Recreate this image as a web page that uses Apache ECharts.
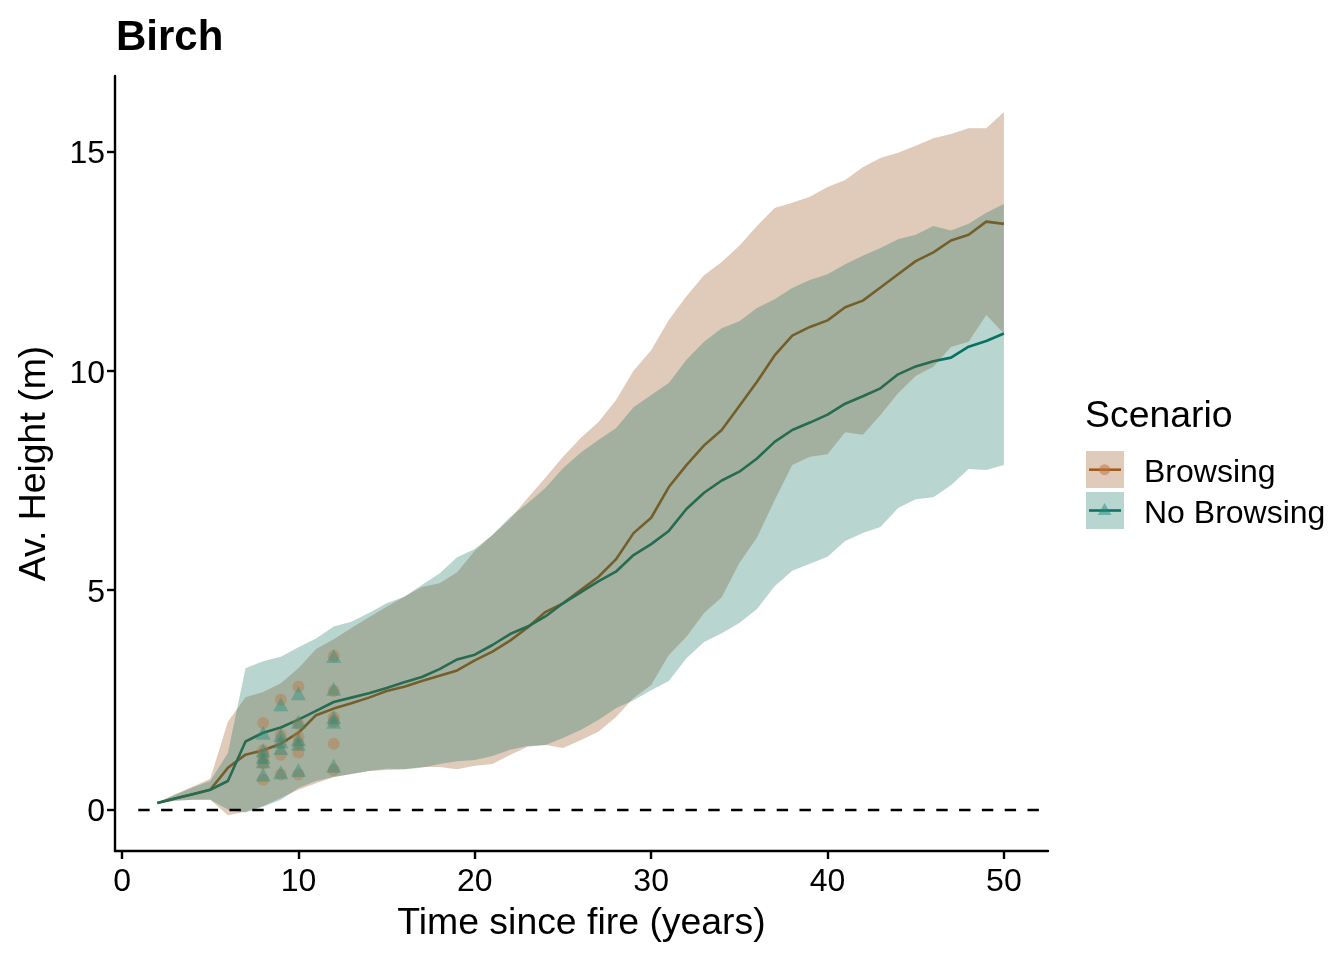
<!DOCTYPE html>
<html><head><meta charset="utf-8">
<style>html,body{margin:0;padding:0;background:#fff}#c{width:1344px;height:960px}</style>
<script src="https://cdn.jsdelivr.net/npm/echarts@6/dist/echarts.min.js"></script>
</head><body><div id="c"></div>
<script>
const years = [2,3,4,5,6,7,8,9,10,11,12,13,14,15,16,17,18,19,20,21,22,23,24,25,26,27,28,29,30,31,32,33,34,35,36,37,38,39,40,41,42,43,44,45,46,47,48,49,50];
const browsingMean = [0.15,0.25,0.35,0.45,0.95,1.25,1.35,1.5,1.75,2.15,2.3,2.42,2.55,2.7,2.8,2.93,3.05,3.17,3.4,3.6,3.85,4.15,4.5,4.7,5.0,5.3,5.7,6.3,6.65,7.35,7.85,8.3,8.65,9.2,9.75,10.35,10.8,11.0,11.15,11.45,11.6,11.9,12.2,12.5,12.7,12.97,13.1,13.4,13.35];
const noBrowsingMean = [0.15,0.25,0.35,0.45,0.65,1.55,1.75,1.87,2.05,2.25,2.45,2.55,2.65,2.77,2.9,3.02,3.2,3.42,3.53,3.75,4.0,4.17,4.4,4.7,4.95,5.2,5.42,5.8,6.05,6.35,6.85,7.22,7.5,7.7,8.0,8.38,8.65,8.82,9.0,9.25,9.42,9.6,9.92,10.1,10.22,10.3,10.55,10.68,10.85];
const browsingUpper = [0.16,0.35,0.52,0.7,2.0,2.56,2.68,2.88,3.22,3.66,3.88,4.14,4.38,4.62,4.85,5.07,5.16,5.41,5.9,6.26,6.62,7.1,7.56,8.04,8.47,8.83,9.33,10.0,10.47,11.16,11.7,12.18,12.48,12.85,13.3,13.71,13.83,13.97,14.19,14.35,14.64,14.85,14.97,15.13,15.3,15.4,15.53,15.53,15.9];
const browsingLower = [0.14,0.2,0.22,0.22,-0.13,-0.05,0.08,0.26,0.45,0.6,0.74,0.81,0.88,0.9,0.92,0.97,0.97,0.92,1.0,1.04,1.24,1.43,1.47,1.4,1.58,1.77,2.1,2.54,2.84,3.52,3.94,4.48,4.84,5.62,6.2,7.05,7.85,8.04,8.1,8.6,8.54,8.99,9.49,9.88,10.09,10.54,10.66,11.27,10.85];
const noBrowsingUpper = [0.16,0.33,0.5,0.65,1.29,3.22,3.38,3.48,3.7,3.9,4.17,4.28,4.48,4.7,4.85,5.12,5.38,5.75,5.94,6.26,6.67,6.98,7.33,7.78,8.13,8.42,8.69,9.17,9.45,9.72,10.25,10.66,10.97,11.13,11.43,11.63,11.89,12.07,12.2,12.43,12.62,12.8,13.0,13.1,13.3,13.2,13.35,13.6,13.8];
const noBrowsingLower = [0.14,0.2,0.22,0.22,0.0,-0.07,0.06,0.22,0.49,0.65,0.74,0.81,0.88,0.93,0.92,0.95,1.04,1.1,1.13,1.22,1.36,1.45,1.47,1.63,1.81,2.04,2.31,2.49,2.72,2.93,3.45,3.82,4.02,4.25,4.57,5.09,5.44,5.6,5.76,6.12,6.3,6.44,6.87,7.07,7.12,7.39,7.76,7.74,7.85];
const pointYears = [8,9,10,12];
const browsingPoints = [[1.97,1.35,1.25,1.15,1.05,0.68],[2.5,1.7,1.5,1.25,0.8],[2.8,1.95,1.65,1.5,1.3,0.8],[3.5,2.7,2.1,2.0,1.5,0.9]];
const noBrowsingPoints = [[1.75,1.35,1.2,1.1,0.8],[2.4,1.7,1.55,1.4,0.85],[2.65,2.0,1.6,1.5,0.9],[3.5,2.75,2.1,2.0,1.0]];
const xTicks = [0,10,20,30,40,50];
const yTicks = [0,5,10,15];
const names = ['Browsing','No Browsing'];

const LINE_B='#A05A14', LINE_T='#00715F';
const BAND_B='rgba(152,78,22,0.3)', BAND_T='rgba(22,115,98,0.3)';
const PT_B='rgba(190,118,68,0.55)', PT_T='rgba(30,140,125,0.5)';
const FONT='"Liberation Sans", Arial, sans-serif';
const pts = arr => pointYears.flatMap((y,i)=>arr[i].map(v=>[y,v]));
const zip = a => years.map((y,i)=>[y,a[i]]);
function band(name,up,lo,color,z){
  return {type:'custom',name,coordinateSystem:'cartesian2d',silent:true,z,
    itemStyle:{color},
    data:years.map((y,i)=>[y,lo[i],up[i]]),
    encode:{x:0,y:[1,2]},
    renderItem(params,api){
      if(params.dataIndex!==0) return null;
      const top=years.map((y,i)=>api.coord([y,up[i]]));
      const bot=years.map((y,i)=>api.coord([y,lo[i]])).reverse();
      return {type:'polygon',shape:{points:top.concat(bot)},style:{fill:color,stroke:null}};
    }};
}
const axisBase={axisLine:{show:true,onZero:false,lineStyle:{color:'#000',width:2.4}},
  splitLine:{show:false},minorTick:{show:false}};
const chart=echarts.init(document.getElementById('c'),null,{renderer:'canvas'});
chart.setOption({
  animation:false,backgroundColor:'#fff',
  textStyle:{fontFamily:FONT},
  title:{text:'Birch',left:111,top:12,textStyle:{fontSize:42,fontWeight:'bold',color:'#000',fontFamily:FONT}},
  grid:{left:115,right:296,top:76,bottom:109,containLabel:false},
  xAxis:Object.assign({type:'value',min:-0.4,max:52.5,name:'Time since fire (years)',nameLocation:'middle',nameGap:54,
    nameTextStyle:{fontSize:37.4,color:'#000',fontFamily:FONT},
    axisTick:{show:true,length:8,customValues:xTicks,lineStyle:{color:'#000',width:2.4}},
    axisLabel:{customValues:xTicks,fontSize:32,color:'#000',margin:15,fontFamily:FONT}},axisBase),
  yAxis:Object.assign({type:'value',min:-0.946,max:16.72,name:'Av. Height (m)',nameLocation:'middle',nameGap:62,
    nameTextStyle:{fontSize:37.4,color:'#000',fontFamily:FONT},
    axisTick:{show:true,length:8,customValues:yTicks,lineStyle:{color:'#000',width:2.4}},
    axisLabel:{customValues:yTicks,margin:10,formatter:'{a|{value}}',
      rich:{a:{fontSize:32,color:'#000',fontFamily:FONT,padding:[6,0,0,0]}}}},axisBase),
  legend:{show:true,orient:'vertical',left:1086,top:451,itemWidth:38,itemHeight:37,itemGap:3,
    selectedMode:false,padding:0,formatter:'{a|{name}}',
    data:[{name:names[0],icon:'rect',itemStyle:{color:BAND_B}},{name:names[1],icon:'rect',itemStyle:{color:BAND_T}}],
    textStyle:{rich:{a:{fontSize:32,color:'#000',fontFamily:FONT,padding:[7,0,0,15]}}}},
  graphic:[
    {type:'text',left:1085,top:398,style:{text:'Scenario',fontSize:37.4,fill:'#000',fontFamily:FONT}},
    {type:'line',z:100,shape:{x1:1089,y1:469.7,x2:1121,y2:469.7},style:{stroke:'#A25B19',lineWidth:2.6}},
    {type:'circle',z:101,shape:{cx:1104.6,cy:469.7,r:5.5},style:{fill:'rgba(190,118,68,0.55)'}},
    {type:'line',z:100,shape:{x1:1089,y1:510.5,x2:1121,y2:510.5},style:{stroke:'#0F7263',lineWidth:2.6}},
    {type:'polygon',z:101,shape:{points:[[1104.6,503],[1111.5,515],[1097.7,515]]},style:{fill:'rgba(30,140,125,0.5)'}}
  ],
  series:[
    {type:'line',name:'Browsing mean',z:2,data:zip(browsingMean),showSymbol:false,silent:true,lineStyle:{color:LINE_B,width:2.6},itemStyle:{color:LINE_B}},
    {type:'line',name:'No Browsing mean',z:2,data:zip(noBrowsingMean),showSymbol:false,silent:true,lineStyle:{color:LINE_T,width:2.6},itemStyle:{color:LINE_T}},
    band(names[0],browsingUpper,browsingLower,BAND_B,3),
    band(names[1],noBrowsingUpper,noBrowsingLower,BAND_T,4),
    {type:'scatter',name:'Browsing points',z:5,data:pts(browsingPoints),symbol:'circle',symbolSize:12,silent:true,
      itemStyle:{color:PT_B}},
    {type:'scatter',name:'No Browsing points',z:6,data:pts(noBrowsingPoints),symbol:'triangle',symbolSize:[15,14],silent:true,
      itemStyle:{color:PT_T}},
    {type:'line',name:'zero',data:[],z:7,silent:true,
      markLine:{silent:true,symbol:'none',z:7,label:{show:false},animation:false,
        lineStyle:{color:'#000',width:2.4,type:[11.4,11.4]},
        data:[[{coord:[0.92,0]},{coord:[52.5,0]}]]}}
  ]
});
</script></body></html>
